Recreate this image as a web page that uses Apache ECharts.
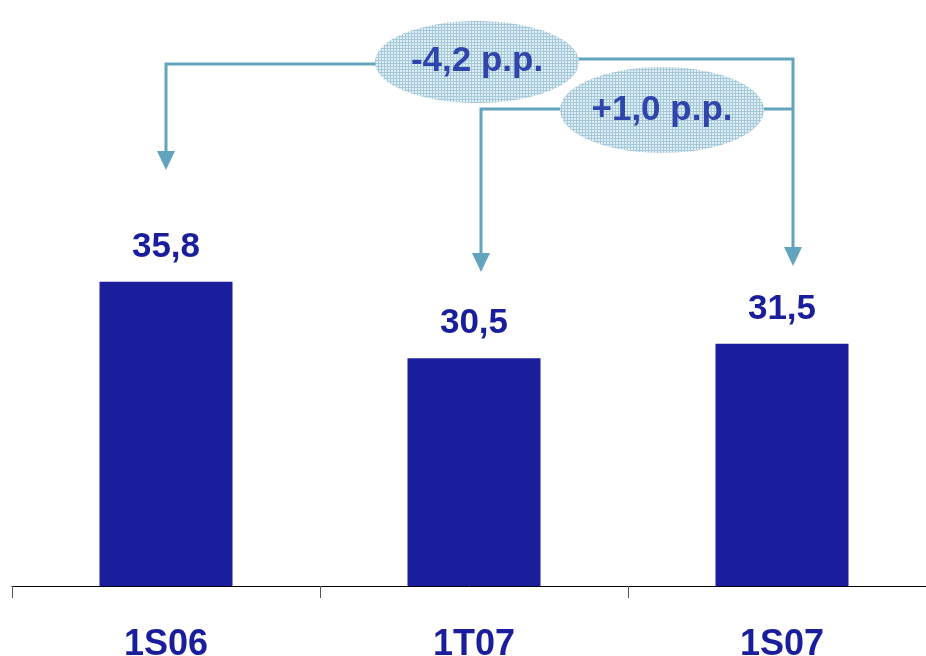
<!DOCTYPE html>
<html>
<head>
<meta charset="utf-8">
<script src="https://cdn.jsdelivr.net/npm/echarts@6/dist/echarts.min.js"></script>
<style>
html,body{margin:0;padding:0;background:#fff;}
#chart{width:926px;height:656px;}
</style>
</head>
<body>
<div id="chart"></div>
<script>
var categories = ['1S06', '1T07', '1S07'];
var values = [35.8, 30.5, 31.5];
var deltaTexts = ['-4,2 p.p.', '+1,0 p.p.'];

var BAR = '#1a1e9c';
var ARROW = '#62a4bd';
var FONT = '"Liberation Sans", Arial, sans-serif';

var chart = echarts.init(document.getElementById('chart'));
chart.setOption({
  animation: false,
  grid: {left: 12, right: -10, top: 80, bottom: 70, containLabel: false, outerBoundsMode: 'none'},
  xAxis: {
    type: 'category',
    data: categories,
    axisLine: {show: true, lineStyle: {color: '#000', width: 1}},
    axisTick: {show: true, length: 12, alignWithLabel: false, lineStyle: {color: '#555'}},
    axisLabel: {margin: 41, fontSize: 36, fontWeight: 'bold', color: BAR, fontFamily: FONT}
  },
  yAxis: {
    type: 'value', min: 14.74, max: 49.76,
    show: false, splitLine: {show: false}
  },
  series: [{
    type: 'bar',
    data: values,
    barWidth: 133,
    itemStyle: {color: BAR},
    label: {
      show: true, position: 'top', distance: 17,
      fontSize: 35, fontWeight: 'bold', color: BAR, fontFamily: FONT,
      formatter: function (p) { return p.value.toFixed(1).replace('.', ','); }
    }
  }]
});

// hatch pattern for the bubbles
var pc = document.createElement('canvas');
pc.width = 3; pc.height = 3;
var ctx = pc.getContext('2d');
ctx.fillStyle = '#dfedf4';
ctx.fillRect(0, 0, 3, 3);
ctx.fillStyle = '#a6c9da';
ctx.fillRect(0, 0, 3, 1);
ctx.fillRect(0, 0, 1, 3);

var cx = categories.map(function (c) { return chart.convertToPixel({xAxisIndex: 0}, c); });

function arrowHead(x, tip) {
  return {type: 'polygon', shape: {points: [[x - 9, tip - 19], [x + 9, tip - 19], [x, tip]]}, style: {fill: ARROW}};
}
function line(points) {
  return {type: 'polyline', shape: {points: points}, style: {stroke: ARROW, lineWidth: 3, fill: null}};
}
var xA = cx[0], xB = cx[1] + 7, xC = cx[2] + 11;
var tipA = 170, tipB = 272, tipC = 266;
var e1 = {x: 477, y: 62, rx: 102, ry: 41};
var e2 = {x: 662, y: 110, rx: 102, ry: 43};

var g = [
  line([[e1.x, 64], [xA, 64], [xA, tipA - 17]]),
  arrowHead(xA, tipA),
  line([[e1.x, 59], [xC, 59], [xC, tipC - 17]]),
  arrowHead(xC, tipC),
  line([[e2.x, 109], [xB, 109], [xB, tipB - 17]]),
  arrowHead(xB, tipB),
  line([[e2.x, 109], [xC, 109]]),
  {type: 'ellipse', shape: {cx: e1.x, cy: e1.y, rx: e1.rx, ry: e1.ry}, style: {fill: {image: pc, repeat: 'repeat'}}},
  {type: 'text', x: e1.x, y: e1.y - 1, style: {text: deltaTexts[0], fontSize: 35, fontWeight: 'bold', fontFamily: FONT, fill: '#2f45ab', align: 'center', verticalAlign: 'middle'}},
  {type: 'ellipse', shape: {cx: e2.x, cy: e2.y, rx: e2.rx, ry: e2.ry}, style: {fill: {image: pc, repeat: 'repeat'}}},
  {type: 'text', x: e2.x, y: e2.y, style: {text: deltaTexts[1], fontSize: 35, fontWeight: 'bold', fontFamily: FONT, fill: '#2f45ab', align: 'center', verticalAlign: 'middle'}}
];
chart.setOption({graphic: g});
</script>
</body>
</html>
